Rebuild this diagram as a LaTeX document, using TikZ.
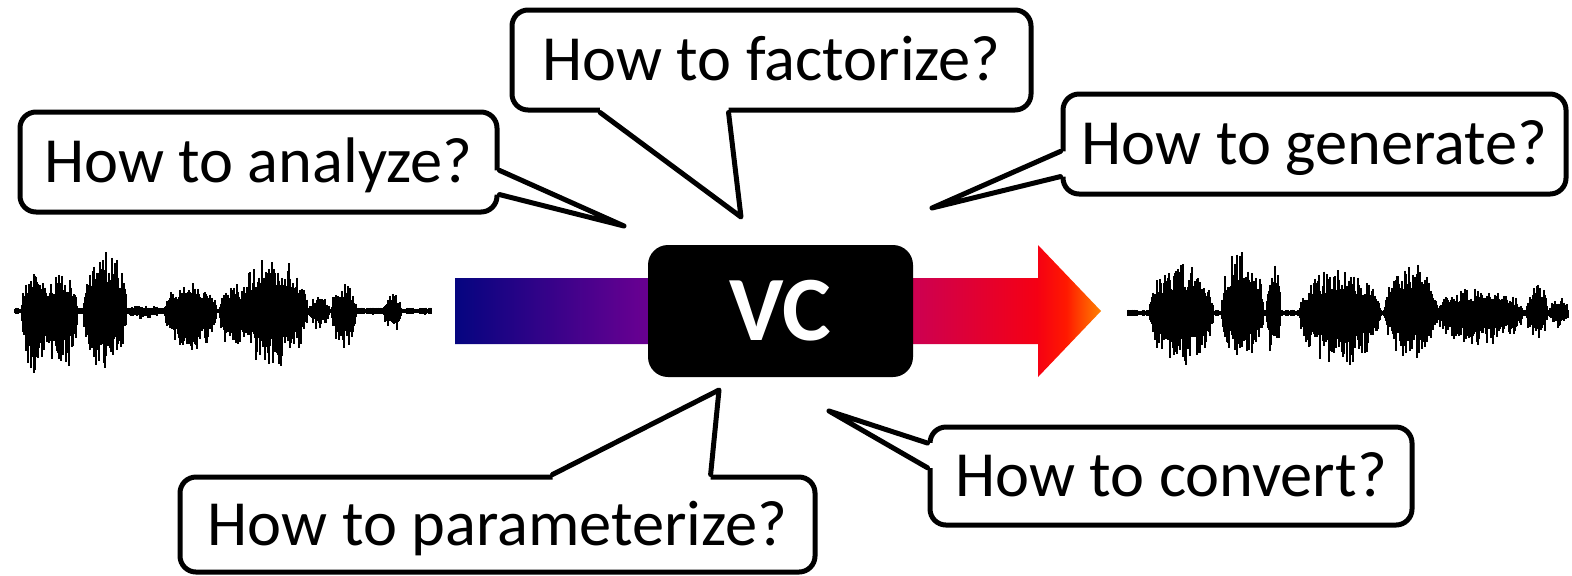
\documentclass[tikz,border=0pt]{standalone}
\usepackage{fontspec}
\setmainfont{Carlito}
\usetikzlibrary{calc}
\definecolor{navy}{RGB}{5,5,128}
\definecolor{violet}{RGB}{100,0,145}
\definecolor{crimson}{RGB}{205,0,80}
\definecolor{brightred}{RGB}{245,0,20}
\definecolor{hotred}{RGB}{255,25,0}
\definecolor{orange}{RGB}{255,130,0}
\pgfdeclarehorizontalshading{vcshade}{100bp}{color(0bp)=(navy); color(25bp)=(navy); color(39bp)=(violet); color(60.7bp)=(crimson); color(70bp)=(brightred); color(72.3bp)=(hotred); color(75bp)=(orange); color(100bp)=(orange)}

\begin{document}
\begin{tikzpicture}[x=0.5pt,y=-0.5pt]

		\def\lw{2.5pt}

		\tikzset{bubble/.style={draw,line width=\lw,fill=white,rounded corners=8pt,inner sep=0pt,font=\fontsize{32.2}{36}\selectfont,text height=20.7pt,text depth=0pt}}
		\tikzset{tail/.style={draw,line width=\lw,line join=round,line cap=round}}
		\tikzset{wave/.style={line width=0.7pt}}

		\useasboundingbox (0,0) rectangle (1572,575);
		\pgfmathsetseed{3}

		% waveforms: centre/from/to/up/down
		\foreach \cy/\xa/\xb/\up/\dn in {311/22/48/38/64, 311/46/77/40/62, 311/84/126/64/62, 311/127/163/6/8,
				311/165/216/29/46, 311/220/245/30/40, 311/240/307/56/57, 311/309/329/15/20, 311/332/356/28/42, 311/384/401/18/22,
				313/1150/1213/51/54, 313/1222/1263/68/47, 313/1267/1280/50/47, 313/1300/1380/45/54,
				313/1385/1437/53/47, 313/1437/1523/26/34, 313/1527/1547/31/29, 313/1550/1568/16/17}{
				\foreach \x in {\xa,...,\xb}{
						\pgfmathsetmacro{\env}{sin(180*(\x-\xa+0.5)/(\xb-\xa+1))^0.4}
						\pgfmathsetmacro{\amptop}{\up*\env*(0.45+0.55*rnd^2)}
						\pgfmathsetmacro{\ampbot}{\dn*\env*(0.45+0.55*rnd^2)}
						\draw[wave] (\x,\cy-\amptop) -- (\x,\cy+\ampbot);
					}
			}
		\foreach \cy/\xa/\xb in {311/15/431, 313/1128/1568}{
				\foreach \x in {\xa,...,\xb}{
						\pgfmathsetmacro{\nz}{1.5+2*rnd}
						\draw[wave] (\x,\cy-\nz) -- (\x,\cy+\nz);
					}
			}

		% arrow through the converter
		\shade[shading=vcshade] (455,278) -- (1038,278) -- (1038,245) -- (1101,311) -- (1038,377) -- (1038,344) -- (455,344) -- cycle;

		\node[fill=black,rounded corners=10pt,minimum width=132.5pt,minimum height=66pt,inner sep=0pt,text=white,font=\bfseries\fontsize{46}{50}\selectfont,text height=29.6pt,text depth=0pt] (vc) at (780.5,311) {VC};

		\node[bubble,minimum width=238.5pt,minimum height=50pt] (analyze) at (258.5,162) {How to analyze?};
		\node[bubble,minimum width=259.5pt,minimum height=50pt] (factorize) at (771.5,60) {How to factorize?};
		\node[bubble,minimum width=251.5pt,minimum height=50pt] (generate) at (1314.5,144) {How to generate?};
		\node[bubble,minimum width=317.5pt,minimum height=47.5pt] (parameterize) at (497.5,524.5) {How to parameterize?};
		\node[bubble,minimum width=241pt,minimum height=49pt] (convert) at (1171,476) {How to convert?};

		\coordinate (ana1) at ($(analyze.north east)!0.58!(analyze.south east)$);
		\coordinate (ana2) at ($(analyze.north east)!0.81!(analyze.south east)$);
		\coordinate (anatip) at (624,226);
		\coordinate (fac1) at ($(factorize.south west)!0.173!(factorize.south east)$);
		\coordinate (fac2) at ($(factorize.south west)!0.418!(factorize.south east)$);
		\coordinate (factip) at (741,217);
		\coordinate (gen1) at ($(generate.north west)!0.57!(generate.south west)$);
		\coordinate (gen2) at ($(generate.north west)!0.81!(generate.south west)$);
		\coordinate (gentip) at (932,208);
		\coordinate (par1) at ($(parameterize.north west)!0.586!(parameterize.north east)$);
		\coordinate (par2) at ($(parameterize.north west)!0.833!(parameterize.north east)$);
		\coordinate (partip) at (719,390);
		\coordinate (con1) at ($(convert.north west)!0.18!(convert.south west)$);
		\coordinate (con2) at ($(convert.north west)!0.42!(convert.south west)$);
		\coordinate (contip) at (829,411);

		% tails: first joint/second joint/tip/inward direction
		\foreach \ja/\jb/\tip/\ix/\iy in {ana1/ana2/anatip/-1/0, fac1/fac2/factip/0/-1, gen1/gen2/gentip/1/0, par1/par2/partip/0/1, con1/con2/contip/1/0}{
				\fill[white] ($(\ja)+(6*\ix,6*\iy)$) -- (\ja) -- (\tip) -- (\jb) -- ($(\jb)+(6*\ix,6*\iy)$) -- cycle;
				\draw[tail] (\ja) -- (\tip) -- (\jb);
			}

	\end{tikzpicture}
\end{document}
